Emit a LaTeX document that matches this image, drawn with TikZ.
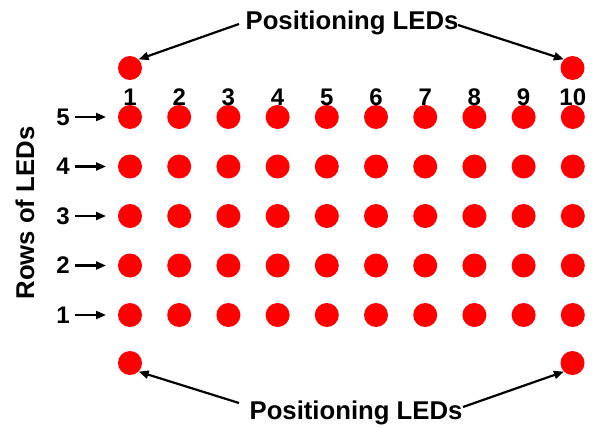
\documentclass[tikz,border=0pt]{standalone}
\usepackage{fontspec}
\setmainfont{Liberation Sans}
\usetikzlibrary{arrows.meta}
\begin{document}
\begin{tikzpicture}[x=1pt,y=-1pt,
  led/.style={circle,fill=red,draw=none,minimum size=24pt,inner sep=0pt},
  num/.style={font=\fontsize{24}{24}\selectfont\bfseries,inner sep=0pt},
  big/.style={font=\fontsize{25.7}{26}\selectfont\bfseries,inner sep=0pt},
  arr/.style={line width=2.2pt,-{Triangle[length=10pt,width=8pt]}},
  rarr/.style={line width=2.2pt,-{Triangle[length=10pt,width=8pt]}}]
\useasboundingbox (0,0) rectangle (597,428);
% grid of LEDs
\foreach \c in {1,...,10}{
  \foreach \r in {1,...,5}{
    \node[led] (L\c-\r) at ({130+(\c-1)*49.2},{315-(\r-1)*49.5}) {};
  }
  \node[num] (C\c) at ({130+(\c-1)*49.2},97) {\c};
}
% positioning LEDs
\node[led] (PTL) at (130,68) {};
\node[led] (PTR) at (572.5,68) {};
\node[led] (PBL) at (130,363) {};
\node[led] (PBR) at (572.5,363) {};
% row labels
\foreach \r in {1,...,5}{
  \node[num] (R\r) at (63,{315-(\r-1)*49.5}) {\r};
  \coordinate (RT\r) at (106,{315-(\r-1)*49.5});
  \draw[rarr] (R\r.east) ++(5,0) coordinate (RS\r) -- (RT\r);
}
\node[big,rotate=90] (rows) at (25,213) {Rows of LEDs};
% positioning labels
\node[big] (top) at (352,23) {Positioning LEDs};
\node[big] (bot) at (356,413) {Positioning LEDs};
\coordinate (t1) at (239,24);
\coordinate (t2) at (458,25);
\coordinate (b1) at (239,403);
\coordinate (b2) at (463,407);
\draw[arr] (t1) -- (PTL.north east);
\draw[arr] (t2) -- (PTR.north west);
\draw[arr] (b1) -- (PBL.south east);
\draw[arr] (b2) -- (PBR.south west);
\end{tikzpicture}
\end{document}
